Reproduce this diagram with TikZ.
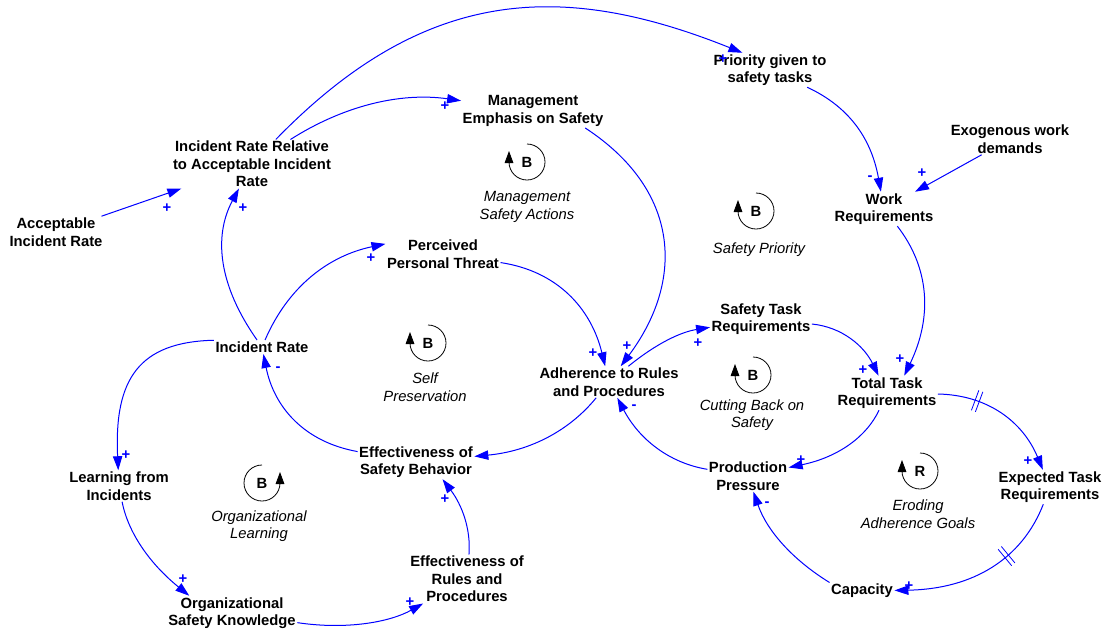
\documentclass[tikz,border=0pt]{standalone}
\usepackage{fontspec}
\setmainfont{Liberation Sans}
\usetikzlibrary{arrows.meta,decorations.markings}

\tikzset{
  var/.style={align=center,inner sep=1pt,font=\fontsize{11.1}{13.1}\selectfont\bfseries},
  looplab/.style={align=center,inner sep=1pt,font=\fontsize{11.1}{13.1}\selectfont\itshape},
  looptag/.style={inner sep=0pt,font=\fontsize{11.1}{13.1}\selectfont\bfseries},
  sgn/.style={blue,inner sep=0pt,font=\fontsize{11.1}{13.1}\selectfont\bfseries},
  link/.style={blue,line width=0.75pt,-{Triangle[length=10.5pt,width=7pt]}},
  loopline/.style={black,line width=0.6pt,-{Triangle[length=9pt,width=6.5pt]}},
  delaymark/.style={postaction={decorate,decoration={markings,
      mark=at position #1 with {\draw[blue,line width=0.6pt,-] (-1.6pt,-8pt) -- (-1.6pt,8pt) (1.6pt,-8pt) -- (1.6pt,8pt);}}}}
}

\begin{document}
\begin{tikzpicture}[x=0.75pt,y=-0.75pt]
\useasboundingbox (0,0) rectangle (1107,636);

%%%%% variables
\node[var] (acc) at (56,232) {Acceptable\\Incident Rate};
\node[var] (irr) at (252,164) {Incident Rate Relative\\to Acceptable Incident\\Rate};
\node[var] (mgt) at (533,111) {Management\\Emphasis on Safety};
\node[var] (pri) at (770,70) {Priority given to\\safety tasks};
\node[var] (exo) at (1010,139) {Exogenous work\\demands};
\node[var] (work) at (884,209) {Work\\Requirements};
\node[var] (ppt) at (443,254) {Perceived\\Personal Threat};
\node[var] (stask) at (761,319) {Safety Task\\Requirements};
\node[var] (inc) at (262,347) {Incident Rate};
\node[var] (adh) at (609,382) {Adherence to Rules\\and Procedures};
\node[var] (ttr) at (887,393) {Total Task\\Requirements};
\node[var] (esb) at (416,462) {Effectiveness of\\Safety Behavior};
\node[var] (lfi) at (119,486) {Learning from\\Incidents};
\node[var] (prod) at (748,476) {Production\\Pressure};
\node[var] (etr) at (1050,487) {Expected Task\\Requirements};
\node[var] (err) at (467,579) {Effectiveness of\\Rules and\\Procedures};
\node[var] (osk) at (232,613) {Organizational\\Safety Knowledge};
\node[var] (cap) at (862,591) {Capacity};

%%%%% links
\draw[link] (acc) -- (irr);
\draw[link] (inc) .. controls (219,286) and (213,237) .. (irr);
\draw[link] (irr) .. controls (343,106) and (400,92) .. (mgt);
\draw[link] (irr) .. controls (424,-13) and (561,-20) .. (pri.148);
\draw[link] (pri) .. controls (852,108) and (872,142) .. (work);
\draw[link] (exo) -- (work);
\draw[link] (mgt.-18) .. controls (680,190) and (685,280) .. (adh);
\draw[link] (ppt) .. controls (557,271) and (591,308) .. (adh);
\draw[link] (adh) .. controls (657,343) and (681,332) .. (stask);
\draw[link] (stask) .. controls (842,327) and (864,346) .. (ttr);
\draw[link] (work) .. controls (929,267) and (933,316) .. (ttr.45);
\draw[link] (ttr) .. controls (867,436) and (839,457) .. (prod);
\draw[link] (prod) .. controls (669,463) and (639,439) .. (adh);
\draw[link] (adh) .. controls (570,430) and (531,451) .. (esb);
\draw[link] (esb) .. controls (304,442) and (274,407) .. (inc);
\draw[link] (inc.172) .. controls (139,342) and (114,379) .. (lfi);
\draw[link] (lfi) .. controls (128,532) and (149,563) .. (osk.158);
\draw[link] (osk) .. controls (347,630) and (390,622) .. (err);
\draw[link] (err) .. controls (471,529) and (462,505) .. (esb.-33);
\draw[link] (inc) .. controls (288,287) and (328,256) .. (ppt.170);
\draw[link,delaymark=0.29] (ttr) .. controls (988,395) and (1023,422) .. (etr);
\draw[link,delaymark=0.35] (etr) .. controls (1022,559) and (973,589) .. (cap);
\draw[link] (cap.north west) .. controls (793,560) and (767,531) .. (prod);

%%%%% polarities
\foreach \x/\y/\s [count=\i] in {167/208/+, 243/208/+, 445/106/+, 723/59/+, 870/178/-,
  922/173/+, 627/346/+, 593/353/+, 698/343/+, 863/370/+, 900/359/+, 801/460/+,
  634/407/-, 278/369/-, 126/455/+, 183/579/+, 410/602/+, 445/499/+, 371/258/+,
  1028/461/+, 909/586/+, 767/504/-}
  \node[sgn] (sg\i) at (\x,\y) {\s};

%%%%% loop markers
\foreach \x/\y/\t [count=\i] in {527/162/B, 756/211/B, 428/343/B, 753/375/B, 920/471/R}
{
 \begin{scope}[shift={(\x,\y)},y=0.75pt]
  \draw[loopline] (0,18) arc[start angle=90,end angle=-180,radius=18] -- (-18,11);
  \node[looptag] (lp\i) at (0,0) {\t};
 \end{scope}
}
\begin{scope}[shift={(262,483)},y=0.75pt]
 \draw[loopline] (0,18) arc[start angle=90,end angle=360,radius=18] -- (18,11);
 \node[looptag] (lp6) at (0,0) {B};
\end{scope}

\node[looplab] (ln1) at (527,207) {Management\\Safety Actions};
\node[looplab] (ln2) at (759,250) {Safety Priority};
\node[looplab] (ln3) at (425,387) {Self\\Preservation};
\node[looplab] (ln4) at (752,415) {Cutting Back on\\Safety};
\node[looplab] (ln5) at (918,514) {Eroding\\Adherence Goals};
\node[looplab] (ln6) at (259,526) {Organizational\\Learning};
\end{tikzpicture}
\end{document}
